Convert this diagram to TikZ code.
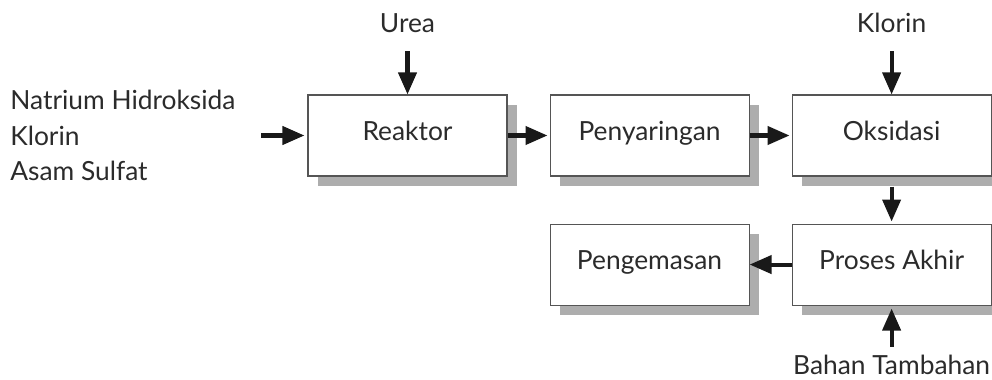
\documentclass[tikz,border=0pt]{standalone}
\usepackage{fontspec}
\setmainfont{Lato}
\usetikzlibrary{positioning,shadows,arrows.meta}
\definecolor{inkgray}{HTML}{2B2B2B}
\definecolor{shadowgray}{HTML}{ADADAD}
\tikzset{
  stage/.style={
    rectangle,
    draw=inkgray!80, line width=0.6pt,
    fill=white,
    minimum width=3.98cm,
    minimum height=1.62cm,
    inner sep=0pt,
    text=inkgray,
    text height=1.6ex, text depth=0.5ex,
    drop shadow={shadow xshift=0.2cm, shadow yshift=-0.2cm, fill=shadowgray, opacity=1}
  },
  feed/.style={
    text=inkgray,
    inner sep=3pt
  },
  flow/.style={
    draw=black!90,
    line width=2.3pt,
    -{Triangle[length=0.44cm, width=0.36cm]}
  }
}
\def\stagesep{0.84}
\def\rowsep{0.94}

\begin{document}
\begin{tikzpicture}[font=\fontsize{15}{20}\selectfont]
    \useasboundingbox (0,0) rectangle (19.84,-7.6);

    %% Stages
    \node[stage] (reaktor) at (8.15,-2.71) {Reaktor};
    \node[stage, right=\stagesep cm of reaktor] (penyaringan) {Penyaringan};
    \node[stage, right=\stagesep cm of penyaringan] (oksidasi) {Oksidasi};
    \node[stage, below=\rowsep cm of oksidasi] (prosesakhir) {Proses Akhir};
    \node[stage, left=\stagesep cm of prosesakhir] (pengemasan) {Pengemasan};

    %% Feeds
    \node[feed, inner sep=0pt, anchor=west, align=left] (bahanbaku) at (0.2,-2.71)
      {Natrium Hidroksida\\Klorin\\Asam Sulfat};
    \coordinate[left=0.92cm of reaktor.west] (masuk);
    \node[feed, above=1.12cm of reaktor] (urea) {Urea};
    \node[feed, above=1.12cm of oksidasi] (klorin) {Klorin};
    \node[feed, below=0.88cm of prosesakhir] (tambahan) {Bahan Tambahan};

    %% Edges
    \draw[flow, shorten >=0.06cm] (masuk) -- (reaktor.west);
    \draw[flow, shorten <=0.26cm] (urea) -- (reaktor);
    \draw[flow, shorten <=0.26cm] (klorin) -- (oksidasi);
    \draw[flow, shorten >=0.04cm] (reaktor) -- (penyaringan);
    \draw[flow, shorten >=0.04cm] (penyaringan) -- (oksidasi);
    \draw[flow, shorten <=0.2cm, shorten >=0.04cm] (oksidasi) -- (prosesakhir);
    \draw[flow] (prosesakhir) -- (pengemasan);
    \draw[flow, shorten <=0.06cm, shorten >=0.06cm] (tambahan) -- (prosesakhir);

\end{tikzpicture}
\end{document}
